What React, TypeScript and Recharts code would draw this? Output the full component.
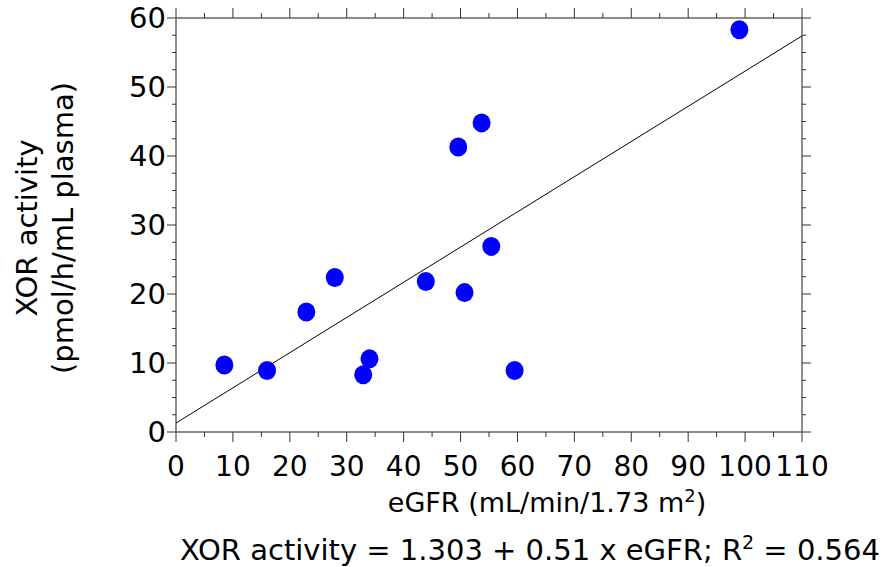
import { ScatterChart, Scatter, XAxis, YAxis } from 'recharts'

// eGFR vs XOR activity
const egfr = [8.5, 16.0, 22.9, 27.9, 32.9, 34.0, 43.9, 49.6, 50.7, 53.7, 55.4, 59.5, 99.0]
const xorActivity = [9.7, 8.9, 17.4, 22.4, 8.3, 10.6, 21.8, 41.3, 20.2, 44.8, 26.9, 8.9, 58.3]

// regression line end points (XOR = 1.303 + 0.51 x eGFR)
const fitX = [0, 110]
const fitY = [1.3, 57.4]

const xTicks = [0, 5, 10, 15, 20, 25, 30, 35, 40, 45, 50, 55, 60, 65, 70, 75, 80, 85, 90, 95, 100, 105, 110]
const yTicks = [0, 2.5, 5, 7.5, 10, 12.5, 15, 17.5, 20, 22.5, 25, 27.5, 30, 32.5, 35, 37.5, 40, 42.5, 45, 47.5, 50, 52.5, 55, 57.5, 60]

const points = egfr.map((x, i) => ({ x, y: xorActivity[i] }))
const fit = fitX.map((x, i) => ({ x, y: fitY[i] }))

const FONT = '"DejaVu Sans", Verdana, sans-serif'
const TICK_COLOR = '#333'
const AXIS_COLOR = '#666'

function makeTick(side: 'bottom' | 'top' | 'left' | 'right') {
    return (props: any) => {
        const { x, y, payload } = props
        const v = payload.value
        const major = v % 10 === 0
        if (side === 'bottom' || side === 'top') {
            const len = major ? 10 : 5
            const s = side === 'bottom' ? 1 : -1
            return (
                <g>
                    <line x1={x} x2={x} y1={y} y2={y + s * len} stroke={TICK_COLOR} strokeWidth={1} />
                    {side === 'bottom' && major && (
                        <text x={x} y={y + 24} dy="0.71em" textAnchor="middle" fontSize={28} fontFamily={FONT} fill="#000">
                            {v}
                        </text>
                    )}
                </g>
            )
        }
        const len = major ? 9 : 4
        const s = side === 'left' ? -1 : 1
        return (
            <g>
                <line x1={x} x2={x + s * len} y1={y} y2={y} stroke={TICK_COLOR} strokeWidth={1} />
                {side === 'left' && major && (
                    <text x={x - 10} y={y} dy="0.355em" textAnchor="end" fontSize={29} fontFamily={FONT} fill="#000">
                        {v}
                    </text>
                )}
            </g>
        )
    }
}

const Dot = (props: any) => <ellipse cx={props.cx} cy={props.cy} rx={9} ry={9.5} fill="#0000FF" />

export default function App() {
    return (
        <div style={{ position: 'absolute', left: 0, top: 0, width: 885, height: 567, background: '#fff' }}>
            <ScatterChart width={885} height={567} margin={{ top: 8, right: 73, bottom: 125, left: 166 }}>
                <XAxis xAxisId="b" type="number" dataKey="x" domain={[0, 110]} ticks={xTicks} interval={0}
                    orientation="bottom" height={10} tickSize={0} tickMargin={0} tick={makeTick('bottom')}
                    tickLine={false} axisLine={{ stroke: AXIS_COLOR, strokeWidth: 1.5 }} allowDataOverflow />
                <XAxis xAxisId="t" type="number" dataKey="x" domain={[0, 110]} ticks={xTicks} interval={0}
                    orientation="top" height={10} tickSize={0} tickMargin={0} tick={makeTick('top')}
                    tickLine={false} axisLine={{ stroke: AXIS_COLOR, strokeWidth: 1.5 }} allowDataOverflow />
                <YAxis yAxisId="l" type="number" dataKey="y" domain={[0, 60]} ticks={yTicks} interval={0}
                    orientation="left" width={10} tickSize={0} tickMargin={0} tick={makeTick('left')}
                    tickLine={false} axisLine={{ stroke: AXIS_COLOR, strokeWidth: 1.5 }} allowDataOverflow />
                <YAxis yAxisId="r" type="number" dataKey="y" domain={[0, 60]} ticks={yTicks} interval={0}
                    orientation="right" width={10} tickSize={0} tickMargin={0} tick={makeTick('right')}
                    tickLine={false} axisLine={{ stroke: AXIS_COLOR, strokeWidth: 1.5 }} allowDataOverflow />
                <Scatter data={fit} xAxisId="t" yAxisId="r" line={{ stroke: '#000', strokeWidth: 1 }}
                    shape={() => <g />} isAnimationActive={false} />
                <Scatter data={points} xAxisId="b" yAxisId="l" shape={Dot} isAnimationActive={false} />
            </ScatterChart>
            <svg width={885} height={567} style={{ position: 'absolute', left: 0, top: 0, pointerEvents: 'none' }}>
                <g fontFamily={FONT} fill="#000">
                    <text transform="translate(37,228) rotate(-90)" textAnchor="middle" fontSize={29}>XOR activity</text>
                    <text transform="translate(73,228) rotate(-90)" textAnchor="middle" fontSize={29}>(pmol/h/mL plasma)</text>
                    <text x={547} y={512} textAnchor="middle" fontSize={27}>
                        eGFR (mL/min/1.73 m<tspan fontSize={18} dy={-10}>2</tspan><tspan dy={10}>)</tspan>
                    </text>
                    <text x={180} y={560} fontSize={29}>
                        XOR activity = 1.303 + 0.51 x eGFR; R<tspan fontSize={19} dy={-11}>2</tspan><tspan dy={11}> = 0.564</tspan>
                    </text>
                </g>
            </svg>
        </div>
    )
}
